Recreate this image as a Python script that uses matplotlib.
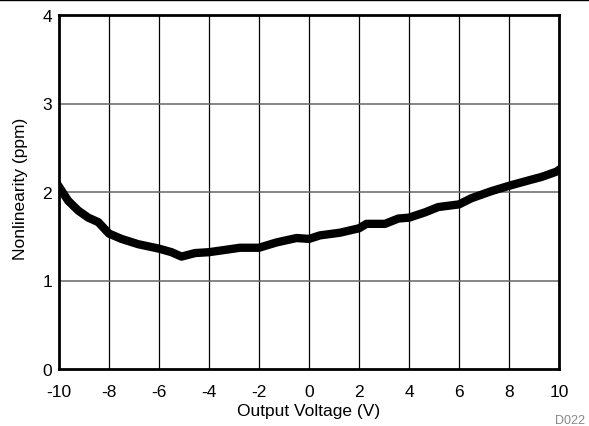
import matplotlib
matplotlib.use("Agg")
import matplotlib.pyplot as plt
from matplotlib.lines import Line2D

plt.rcParams['font.family'] = ['Liberation Sans', 'DejaVu Sans']

voltage = [-10.0, -9.63, -9.23, -8.83, -8.43, -8.0, -7.5, -6.83, -6.0, -5.5, -5.1, -4.56,
           -4.0, -3.5, -2.76, -2.0, -1.3, -0.5, 0.0, 0.44, 1.24, 2.0, 2.3, 3.04, 3.57,
           4.0, 4.64, 5.17, 6.0, 6.5, 7.3, 8.0, 8.77, 9.3, 9.9, 10.0]
nonlinearity = [2.06, 1.90, 1.79, 1.71, 1.66, 1.53, 1.47, 1.41, 1.36, 1.32, 1.27, 1.31,
                1.32, 1.34, 1.37, 1.37, 1.43, 1.48, 1.47, 1.51, 1.54, 1.59, 1.64, 1.64, 1.70,
                1.71, 1.77, 1.83, 1.86, 1.93, 2.01, 2.07, 2.13, 2.17, 2.23, 2.25]

x_ticks = [-10, -8, -6, -4, -2, 0, 2, 4, 6, 8, 10]
y_ticks = [0, 1, 2, 3, 4]

fig = plt.figure(figsize=(5.89, 4.27), dpi=100)
ax = fig.add_axes([59/589, 1 - 370/427, 500/589, 354/427])

ax.plot(voltage, nonlinearity, color='black', lw=6.0, solid_joinstyle='round', zorder=3)

ax.set_xlim(-10, 10)
ax.set_ylim(0, 4)
ax.set_xticks(x_ticks)
ax.set_yticks(y_ticks)
ax.set_xticklabels([str(v) for v in x_ticks])
ax.set_yticklabels([str(v) for v in y_ticks])
ax.tick_params(axis='x', length=0, pad=11, labelsize=12.5)
ax.tick_params(axis='y', length=0, pad=5, labelsize=12.5)

for v in x_ticks[1:-1]:
    ax.axvline(v, color='black', lw=0.9, zorder=1)
for v in y_ticks[1:-1]:
    ax.axhline(v, color='#666666', lw=1.1, zorder=1)

for s in ax.spines.values():
    s.set_linewidth(2.0)
    s.set_color('black')

ax.set_xlabel('Output Voltage (V)', fontsize=12.5, labelpad=2.5)
ax.set_ylabel('Nonlinearity (ppm)', fontsize=12.5)
ax.yaxis.set_label_coords(-0.062, 0.511)

fig.text(570/589, 1 - 421/427, 'D022', fontsize=9, color='#888888', ha='center', va='center')
fig.add_artist(Line2D([0, 1], [0.9985, 0.9985], color='black', lw=1.0, transform=fig.transFigure))

fig.savefig('out.png', dpi=100)
